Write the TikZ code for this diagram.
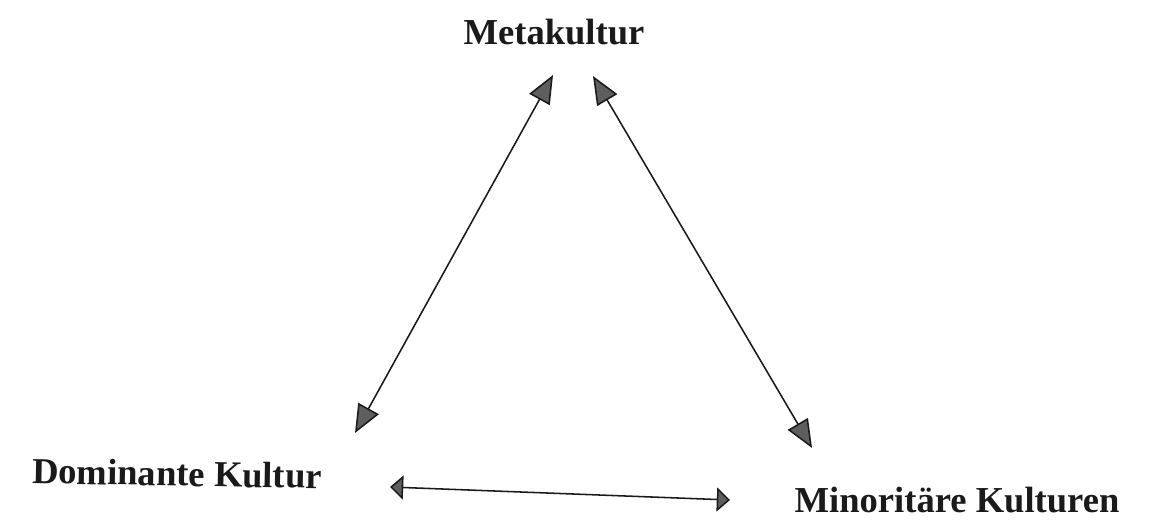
\documentclass[tikz,border=0pt]{standalone}
\usepackage{fontspec}
\setmainfont{Liberation Serif}
\usepackage{xcolor}
\usepackage{tikz}
\usetikzlibrary{arrows.meta, positioning}
\definecolor{inkblack}{HTML}{1A1A1A}
\definecolor{headgray}{HTML}{5E5E5E}
\tikzset{
  kultur/.style={font=\fontsize{26}{31}\selectfont\bfseries, text=inkblack,
                 inner sep=0pt, anchor=base},
  bigtip/.tip={Triangle[length=0.7cm, width=0.58cm, fill=headgray]},
  smalltip/.tip={Triangle[length=0.33cm, width=0.6cm, fill=headgray]},
  relate/.style={line width=1.1pt, color=inkblack},
}

\begin{document}
\begin{tikzpicture}[x=0.025cm, y=-0.025cm]
  \useasboundingbox (0,0) rectangle (1161,523);

  % ── Labels ───────────────────────────────────────────────────────────────
  \node[kultur] (meta) at (554,45)  {Metakultur};
  \node[kultur, rotate=-1] (dom) at (177,486) {Dominante Kultur};
  \node[kultur] (min)  at (957,512) {Minoritäre Kulturen};

  % ── Arrow ends ───────────────────────────────────────────────────────────
  \coordinate (metaL) at (553,75);
  \coordinate (metaR) at (593,76);
  \coordinate (domT)  at (355,433);
  \coordinate (domR)  at (390,487);
  \coordinate (minT)  at (812,448);
  \coordinate (minL)  at (730,500);

  % ── Edges ────────────────────────────────────────────────────────────────
  \draw[relate, bigtip-bigtip]     (metaL) -- (domT);
  \draw[relate, bigtip-bigtip]     (metaR) -- (minT);
  \draw[relate, smalltip-smalltip] (domR)  -- (minL);

\end{tikzpicture}
\end{document}
